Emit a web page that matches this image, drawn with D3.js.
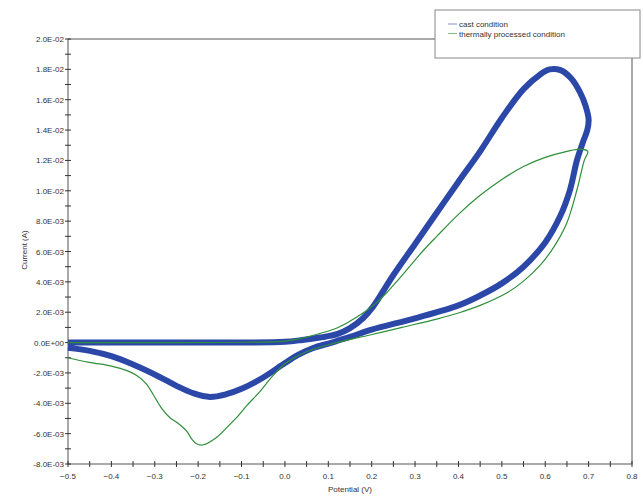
<!DOCTYPE html>
<html>
<head>
<meta charset="utf-8">
<script src="https://cdn.jsdelivr.net/npm/d3@7"></script>
<style>
	body { margin: 0; background: #fff; }
	text { font-family: "Liberation Sans", Arial, sans-serif; fill: #333; }
</style>
</head>
<body>
<div id="chart"></div>
<script>
// potential (V) and current (mA)
var castV = [-0.5, -0.3, -0.1, 0.0, 0.04, 0.08, 0.12, 0.15, 0.18, 0.2, 0.22, 0.25, 0.30, 0.35, 0.40, 0.45, 0.50, 0.55, 0.59, 0.61, 0.635, 0.66, 0.68, 0.693, 0.70,
	0.697, 0.688, 0.673, 0.657, 0.634, 0.60, 0.55, 0.50, 0.45, 0.40, 0.30, 0.20, 0.15, 0.104, 0.065, 0.028, 0.0, -0.05, -0.1, -0.135, -0.173, -0.21, -0.25, -0.29, -0.35, -0.40, -0.45, -0.5];
var castI = [0.0, 0.0, 0.0, 0.05, 0.17, 0.33, 0.55, 0.95, 1.6, 2.25, 3.1, 4.45, 6.5, 8.55, 10.6, 12.6, 14.8, 16.7, 17.7, 18.0, 17.95, 17.4, 16.5, 15.6, 14.7,
	14.0, 13.3, 12.0, 10.05, 8.3, 6.6, 5.0, 3.9, 3.1, 2.45, 1.6, 0.85, 0.37, -0.03, -0.36, -0.85, -1.35, -2.3, -3.05, -3.4, -3.58, -3.35, -2.85, -2.25, -1.45, -0.9, -0.55, -0.35];

var thermV = [-0.5, -0.3, -0.1, 0.0, 0.04, 0.08, 0.12, 0.18, 0.21, 0.235, 0.26, 0.29, 0.32, 0.35, 0.40, 0.45, 0.50, 0.55, 0.60, 0.65, 0.68, 0.698,
	0.69, 0.673, 0.65, 0.62, 0.59, 0.55, 0.51, 0.45, 0.40, 0.35, 0.27, 0.196, 0.12, 0.05, 0.0, -0.028, -0.06, -0.088, -0.11, -0.134, -0.16, -0.19, -0.205, -0.215, -0.226, -0.245, -0.265, -0.285, -0.30, -0.32, -0.34, -0.364, -0.40, -0.44, -0.47, -0.5];
var thermI = [0.0, 0.0, 0.02, 0.1, 0.3, 0.6, 0.96, 1.95, 2.6, 3.3, 4.1, 5.1, 6.1, 7.0, 8.45, 9.7, 10.75, 11.6, 12.2, 12.6, 12.75, 12.6,
	12.0, 10.05, 7.9, 6.3, 5.15, 4.05, 3.25, 2.45, 1.95, 1.55, 1.0, 0.5, 0.0, -0.6, -1.4, -2.2, -3.3, -4.15, -4.9, -5.6, -6.3, -6.75, -6.65, -6.35, -5.85, -5.35, -4.95, -4.3, -3.6, -2.7, -2.2, -1.85, -1.55, -1.35, -1.2, -1.0];

var seriesNames = ["cast condition", "thermally processed condition"];
var seriesColors = ["#2b47a7", "#2f8f3a"];

var xTicks = [-0.5, -0.4, -0.3, -0.2, -0.1, 0.0, 0.1, 0.2, 0.3, 0.4, 0.5, 0.6, 0.7, 0.8];
var yTicks = [-8, -6, -4, -2, 0, 2, 4, 6, 8, 10, 12, 14, 16, 18, 20];
var yTickLabels = ["-8.0E-03", "-6.0E-03", "-4.0E-03", "-2.0E-03", "0.0E+00", "2.0E-03", "4.0E-03", "6.0E-03", "8.0E-03",
	"1.0E-02", "1.2E-02", "1.4E-02", "1.6E-02", "1.8E-02", "2.0E-02"];

var width = 643, height = 497;
var margin = {left: 68, right: 11, top: 39, bottom: 33};

var svg = d3.select("#chart").append("svg")
	.attr("width", width)
	.attr("height", height);

var x = d3.scaleLinear().domain([-0.5, 0.8]).range([margin.left, width - margin.right]);
var y = d3.scaleLinear().domain([-8, 20]).range([height - margin.bottom, margin.top]);

// plot frame
svg.append("rect")
	.attr("x", x(-0.5)).attr("y", y(20))
	.attr("width", x(0.8) - x(-0.5)).attr("height", y(-8) - y(20))
	.attr("fill", "none").attr("stroke", "#555").attr("stroke-width", 1);

// minor + major ticks crossing the axes
var yMinor = d3.range(-8, 20.5, 1);
svg.selectAll("line.ytick").data(yMinor).enter().append("line")
	.attr("class", "ytick")
	.attr("x1", x(-0.5) - 3).attr("x2", x(-0.5) + 3)
	.attr("y1", function (d) { return y(d); }).attr("y2", function (d) { return y(d); })
	.attr("stroke", "#333");

var xMinor = d3.range(-0.5, 0.801, 0.05);
svg.selectAll("line.xtick").data(xMinor).enter().append("line")
	.attr("class", "xtick")
	.attr("y1", y(-8) - 3).attr("y2", y(-8) + 3)
	.attr("x1", function (d) { return x(d); }).attr("x2", function (d) { return x(d); })
	.attr("stroke", "#333");

svg.selectAll("text.ylab").data(yTicks).enter().append("text")
	.attr("class", "ylab")
	.attr("x", x(-0.5) - 4)
	.attr("y", function (d) { return y(d) + 3; })
	.attr("text-anchor", "end")
	.attr("font-size", "8px")
	.text(function (d, i) { return yTickLabels[i]; });

var fmt = d3.format(".1f");
svg.selectAll("text.xlab").data(xTicks).enter().append("text")
	.attr("class", "xlab")
	.attr("x", function (d) { return x(d); })
	.attr("y", y(-8) + 15)
	.attr("text-anchor", "middle")
	.attr("font-size", "8px")
	.text(function (d) { return fmt(d); });

svg.append("text")
	.attr("transform", "translate(27," + 250 + ") rotate(-90)")
	.attr("text-anchor", "middle")
	.attr("font-size", "8px")
	.text("Current (A)");

svg.append("text")
	.attr("x", 350).attr("y", 492)
	.attr("text-anchor", "middle")
	.attr("font-size", "8px")
	.text("Potential (V)");

// curves
var line = d3.line()
	.x(function (d) { return x(d[0]); })
	.y(function (d) { return y(d[1]); })
	.curve(d3.curveCatmullRom.alpha(0.5));

var thermData = thermV.map(function (v, i) { return [v, thermI[i]]; });
var castData = castV.map(function (v, i) { return [v, castI[i]]; });

svg.append("path")
	.datum(castData)
	.attr("d", line)
	.attr("fill", "none")
	.attr("stroke", seriesColors[0])
	.attr("stroke-width", 6)
	.attr("stroke-linejoin", "round");

svg.append("path")
	.datum(thermData)
	.attr("d", line)
	.attr("fill", "none")
	.attr("stroke", seriesColors[1])
	.attr("stroke-width", 1.2);

// legend
var legend = svg.append("g").attr("transform", "translate(435,10)");
legend.append("rect")
	.attr("width", 205).attr("height", 48)
	.attr("fill", "#fff").attr("stroke", "#888");
seriesNames.forEach(function (name, i) {
	legend.append("line")
		.attr("x1", 13).attr("x2", 22)
		.attr("y1", 14 + i * 9.5).attr("y2", 14 + i * 9.5)
		.attr("stroke", seriesColors[i]).attr("stroke-opacity", 0.6);
	legend.append("text")
		.attr("x", 24).attr("y", 17 + i * 9.5)
		.attr("font-size", "8px")
		.text(name);
});
</script>
</body>
</html>
